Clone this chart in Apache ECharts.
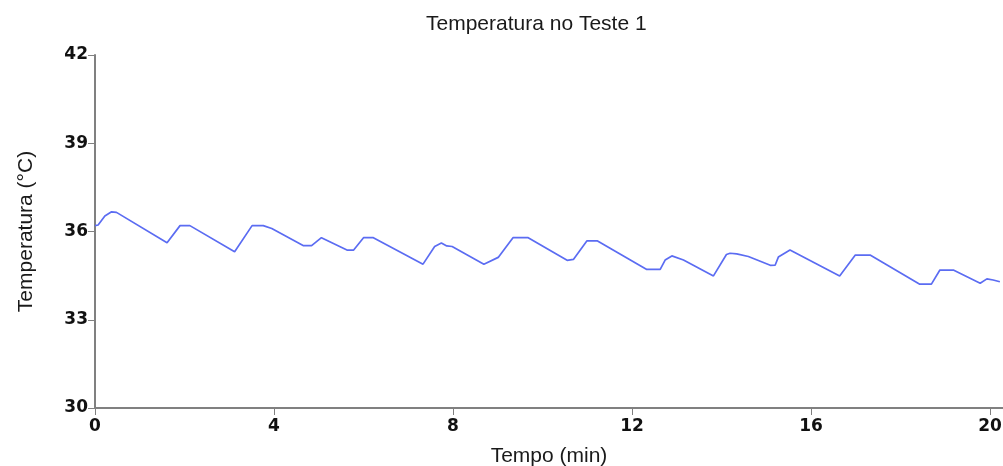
<!DOCTYPE html>
<html>
<head>
<meta charset="utf-8">
<script src="https://cdn.jsdelivr.net/npm/echarts@6/dist/echarts.min.js"></script>
<style>html,body{margin:0;padding:0;background:#fff}#c{width:1003px;height:466px}</style>
</head>
<body>
<div id="c"></div>
<script>
const timeMin = [0, 0.07, 0.22, 0.37, 0.48, 1.61, 1.90, 2.12, 3.12, 3.51, 3.76, 3.95, 4.65, 4.84, 5.06, 5.63, 5.78, 6.00, 6.22, 7.33, 7.59, 7.74, 7.86, 7.98, 8.69, 9.01, 9.34, 9.68, 10.55, 10.69, 10.99, 11.23, 12.33, 12.63, 12.74, 12.89, 13.15, 13.82, 14.11, 14.19, 14.34, 14.60, 15.09, 15.20, 15.27, 15.53, 16.64, 16.99, 17.32, 18.43, 18.69, 18.88, 19.18, 19.78, 19.93, 20.07, 20.22];
const tempC = [36.20, 36.22, 36.53, 36.67, 36.65, 35.62, 36.20, 36.20, 35.31, 36.20, 36.20, 36.10, 35.52, 35.52, 35.79, 35.37, 35.37, 35.79, 35.79, 34.89, 35.49, 35.61, 35.51, 35.49, 34.89, 35.12, 35.79, 35.79, 35.02, 35.05, 35.68, 35.68, 34.71, 34.71, 35.03, 35.17, 35.03, 34.49, 35.22, 35.26, 35.24, 35.15, 34.85, 34.86, 35.13, 35.37, 34.49, 35.20, 35.20, 34.21, 34.21, 34.69, 34.69, 34.24, 34.39, 34.35, 34.29];
const xTicks = [0, 4, 8, 12, 16, 20];
const yTicks = [30, 33, 36, 39, 42];
const titleText = 'Temperatura no Teste 1';
const xName = 'Tempo (min)';
const yName = 'Temperatura (°C)';

const chart = echarts.init(document.getElementById('c'));
const labelStyle = {fontFamily: 'DejaVu Sans', fontWeight: 'bold', fontSize: 17, color: '#111'};
chart.setOption({
  animation: false,
  title: {text: titleText, left: 421, top: 9,
    textStyle: {fontFamily: 'Liberation Sans', fontWeight: 'normal', fontSize: 21, color: '#1a1a1a'}},
  grid: {left: 95, top: 55, right: 0, bottom: 58, containLabel: false, outerBoundsMode: 'none'},
  xAxis: {type: 'value', min: 0, max: 20.29, interval: 4,
    name: xName, nameLocation: 'middle', nameGap: 38,
    nameTextStyle: {fontFamily: 'Liberation Sans', fontSize: 21, color: '#1a1a1a'},
    axisLine: {lineStyle: {color: '#808080', width: 2}},
    axisTick: {length: 7, lineStyle: {color: '#808080'}},
    axisLabel: Object.assign({margin: 10, formatter: v => xTicks.includes(v) ? String(v) : ''}, labelStyle),
    splitLine: {show: false}},
  yAxis: {type: 'value', min: 30, max: 42, interval: 3,
    name: yName, nameLocation: 'middle', nameGap: 58, nameRotate: 90,
    nameTextStyle: {fontFamily: 'Liberation Sans', fontSize: 21, color: '#1a1a1a'},
    axisLine: {show: true, lineStyle: {color: '#808080', width: 2}},
    axisTick: {show: true, length: 7, lineStyle: {color: '#808080'}},
    axisLabel: Object.assign({margin: 7, formatter: v => yTicks.includes(v) ? String(v) : ''}, labelStyle),
    splitLine: {show: false}},
  series: [{type: 'line', showSymbol: false, symbol: 'none',
    data: timeMin.map((t, i) => [t, tempC[i]]),
    lineStyle: {color: '#5b6cf2', width: 1.7}}]
});
</script>
</body>
</html>
